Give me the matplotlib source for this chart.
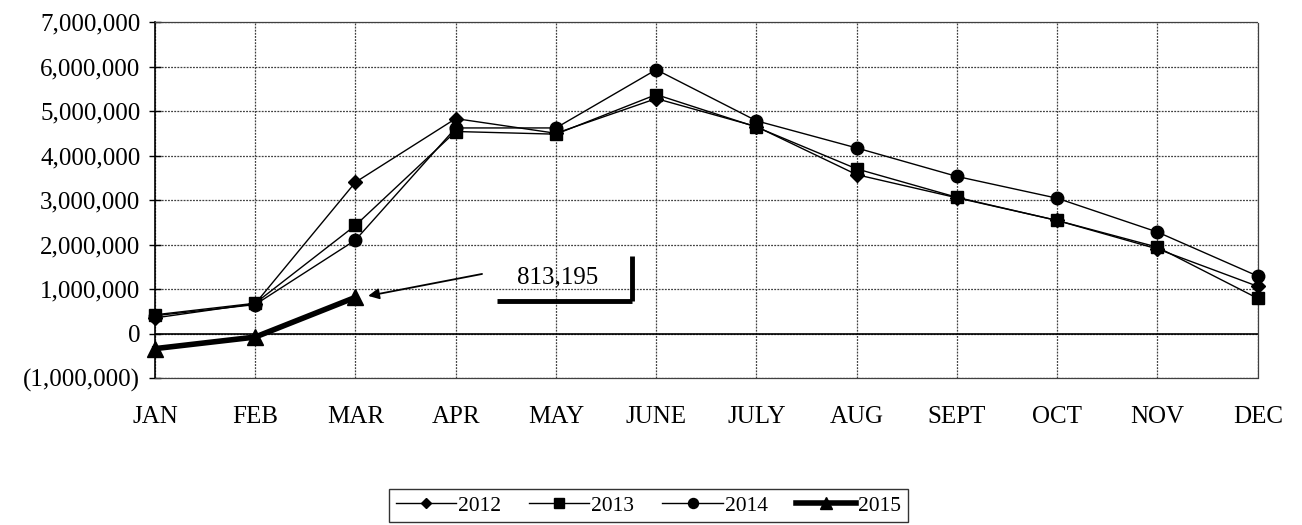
import numpy as np
import matplotlib
matplotlib.use("Agg")
import matplotlib.pyplot as plt
from matplotlib.ticker import FuncFormatter

plt.rcParams['font.family'] = ['Liberation Serif', 'DejaVu Serif']

# data
months = ['JAN', 'FEB', 'MAR', 'APR', 'MAY', 'JUNE', 'JULY', 'AUG', 'SEPT', 'OCT', 'NOV', 'DEC']
y2012 = [350000, 670000, 3400000, 4830000, 4500000, 5280000, 4650000, 3570000, 3050000, 2540000, 1900000, 1060000]
y2013 = [420000, 680000, 2430000, 4540000, 4480000, 5370000, 4640000, 3700000, 3060000, 2540000, 1940000, 790000]
y2014 = [400000, 650000, 2100000, 4620000, 4620000, 5930000, 4780000, 4170000, 3530000, 3040000, 2280000, 1290000]
y2015 = [-340000, -80000, 813195]
callout_value = 813195

x = np.arange(len(months))

fig = plt.figure(figsize=(13.02, 5.25), dpi=100)
ax = fig.add_axes([0.119, 0.280, 0.847, 0.678])

ax.plot(x, y2012, color='black', lw=1, marker='D', ms=7, label='2012', clip_on=False, zorder=3)
ax.plot(x, y2013, color='black', lw=1, marker='s', ms=9, label='2013', clip_on=False, zorder=3)
ax.plot(x, y2014, color='black', lw=1, marker='o', ms=9, label='2014', clip_on=False, zorder=3)
ax.plot(x[:len(y2015)], y2015, color='black', lw=4, marker='^', ms=11, label='2015',
        clip_on=False, zorder=3)

ax.set_xlim(0, 11)
ax.set_ylim(-1000000, 7000000)
ax.set_yticks(np.arange(-1000000, 7000001, 1000000))
ax.set_xticks(x)
ax.set_xticklabels(months)

def fmt(v, pos):
    if v < 0:
        return '({:,.0f})'.format(-v)
    return '{:,.0f}'.format(v)
ax.yaxis.set_major_formatter(FuncFormatter(fmt))

ax.grid(True, color='0.25', linestyle=(0, (1.5, 1)), lw=0.9)
ax.axhline(0, color='black', lw=1.2)
ax.tick_params(axis='y', direction='inout', length=9, width=1, labelsize=18, pad=6)
ax.tick_params(axis='x', length=0, labelsize=18, pad=20)

for s in ['top', 'right', 'bottom']:
    ax.spines[s].set_linestyle((0, (1.5, 1)))
    ax.spines[s].set_color('0.25')
    ax.spines[s].set_linewidth(0.9)
ax.spines['left'].set_color('black')
ax.spines['left'].set_linewidth(1.2)

# callout for the latest value
ax.annotate('', xy=(2.1, callout_value + 20000), xytext=(3.29, 1350000),
            arrowprops=dict(arrowstyle='-|>', color='black', lw=1.3, mutation_scale=16))
ax.text(4.02, 1260000, '{:,}'.format(callout_value), fontsize=18, ha='center', va='center')
ax.plot([3.41, 4.755], [740000, 740000], color='black', lw=3.5, solid_capstyle='butt')
ax.plot([4.755, 4.755], [740000, 1740000], color='black', lw=3.5, solid_capstyle='butt')

leg = fig.legend(loc='center', bbox_to_anchor=(0.498, 0.037), ncol=4, fontsize=15.5,
                 frameon=True, fancybox=False, edgecolor='black', handlelength=2.8,
                 columnspacing=1.3, handletextpad=0.1, borderpad=0.3, markerscale=0.8)
leg.get_frame().set_linewidth(1)

fig.savefig('out.png', dpi=100)
